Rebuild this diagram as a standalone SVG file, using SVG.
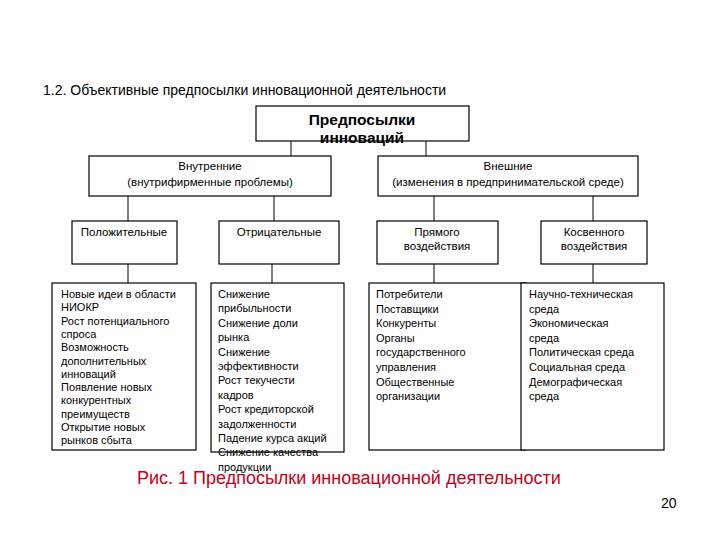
<svg xmlns="http://www.w3.org/2000/svg" width="720" height="540" viewBox="0 0 720 540">
<style>
text{font-family:"Liberation Sans",Arial,sans-serif;fill:#000}
.box{fill:#fff;stroke:#000;stroke-width:1.2}
.ln{stroke:#000;stroke-width:1;fill:none}
.t{font-size:11.5px}
.c{text-anchor:middle}
.s{font-size:11px}
</style>
<rect width="720" height="540" fill="#fff"/>
<text x="43" y="95" font-size="14">1.2. Объективные предпосылки инновационной деятельности</text>
<g id="connectors">
<line class="ln" x1="291" y1="141" x2="291" y2="156"/>
<line class="ln" x1="426" y1="141" x2="426" y2="156"/>
<line class="ln" x1="128" y1="196" x2="128" y2="221"/>
<line class="ln" x1="274" y1="196" x2="274" y2="221"/>
<line class="ln" x1="434" y1="196" x2="434" y2="221"/>
<line class="ln" x1="593" y1="196" x2="593" y2="221"/>
<line class="ln" x1="128" y1="264" x2="128" y2="283"/>
<line class="ln" x1="272" y1="264" x2="272" y2="283"/>
<line class="ln" x1="434" y1="264" x2="434" y2="283"/>
<line class="ln" x1="593" y1="264" x2="593" y2="283"/>
</g>
<g id="root">
<rect class="box" x="256" y="106" width="213" height="35"/>
<text class="c" x="362" y="125" font-size="15.5" font-weight="bold">Предпосылки</text>
<text class="c" x="362" y="143" font-size="15.5" font-weight="bold">инноваций</text>
</g>
<g id="internal">
<rect class="box" x="89" y="156" width="242" height="40"/>
<text class="c t" x="210" y="170">Внутренние</text>
<text class="c t" x="210" y="186">(внутрифирменные проблемы)</text>
</g>
<g id="external">
<rect class="box" x="378" y="156" width="260" height="40"/>
<text class="c t" x="508" y="170">Внешние</text>
<text class="c t" x="508" y="186">(изменения в предпринимательской среде)</text>
</g>
<g id="positive">
<rect class="box" x="72" y="221" width="105" height="43"/>
<text class="c t" x="124" y="236">Положительные</text>
</g>
<g id="negative">
<rect class="box" x="219" y="221" width="120" height="43"/>
<text class="c t" x="279" y="236">Отрицательные</text>
</g>
<g id="direct">
<rect class="box" x="377" y="221" width="121" height="43"/>
<text class="c t" x="437" y="236">Прямого</text>
<text class="c t" x="437" y="250">воздействия</text>
</g>
<g id="indirect">
<rect class="box" x="541" y="221" width="106" height="43"/>
<text class="c t" x="594" y="236">Косвенного</text>
<text class="c t" x="594" y="250">воздействия</text>
</g>
<g id="positive-list">
<rect class="box" x="52" y="283" width="144" height="167"/>
<text class="s" x="61" y="298">Новые идеи в области</text>
<text class="s" x="61" y="311.3">НИОКР</text>
<text class="s" x="61" y="324.6">Рост потенциального</text>
<text class="s" x="61" y="337.9">спроса</text>
<text class="s" x="61" y="351.2">Возможность</text>
<text class="s" x="61" y="364.5">дополнительных</text>
<text class="s" x="61" y="377.8">инноваций</text>
<text class="s" x="61" y="391.1">Появление новых</text>
<text class="s" x="61" y="404.4">конкурентных</text>
<text class="s" x="61" y="417.7">преимуществ</text>
<text class="s" x="61" y="431">Открытие новых</text>
<text class="s" x="61" y="444.3">рынков сбыта</text>
</g>
<g id="negative-list">
<rect class="box" x="211" y="283" width="133" height="169"/>
<text class="s" x="218" y="298">Снижение</text>
<text class="s" x="218" y="312.4">прибыльности</text>
<text class="s" x="218" y="326.8">Снижение доли</text>
<text class="s" x="218" y="341.2">рынка</text>
<text class="s" x="218" y="355.6">Снижение</text>
<text class="s" x="218" y="370">эффективности</text>
<text class="s" x="218" y="384.4">Рост текучести</text>
<text class="s" x="218" y="398.8">кадров</text>
<text class="s" x="218" y="413.2">Рост кредиторской</text>
<text class="s" x="218" y="427.6">задолженности</text>
<text class="s" x="218" y="442">Падение курса акций</text>
<text class="s" x="218" y="456.4">Снижение качества</text>
<text class="s" x="218" y="470.5">продукции</text>
</g>
<g id="direct-list">
<rect class="box" x="369" y="283" width="157" height="167"/>
<text class="s" x="376" y="298">Потребители</text>
<text class="s" x="376" y="312.6">Поставщики</text>
<text class="s" x="376" y="327.2">Конкуренты</text>
<text class="s" x="376" y="341.8">Органы</text>
<text class="s" x="376" y="356.4">государственного</text>
<text class="s" x="376" y="371">управления</text>
<text class="s" x="376" y="385.6">Общественные</text>
<text class="s" x="376" y="400.2">организации</text>
</g>
<g id="indirect-list">
<rect class="box" x="521" y="283" width="143" height="167"/>
<text class="s" x="529" y="298">Научно-техническая</text>
<text class="s" x="529" y="312.6">среда</text>
<text class="s" x="529" y="327.2">Экономическая</text>
<text class="s" x="529" y="341.8">среда</text>
<text class="s" x="529" y="356.4">Политическая среда</text>
<text class="s" x="529" y="371">Социальная среда</text>
<text class="s" x="529" y="385.6">Демографическая</text>
<text class="s" x="529" y="400.2">среда</text>
</g>
<text x="137" y="484" font-size="18" style="fill:#c4001a">Рис. 1 Предпосылки инновационной деятельности</text>
<text x="661" y="508" font-size="14">20</text>
</svg>
